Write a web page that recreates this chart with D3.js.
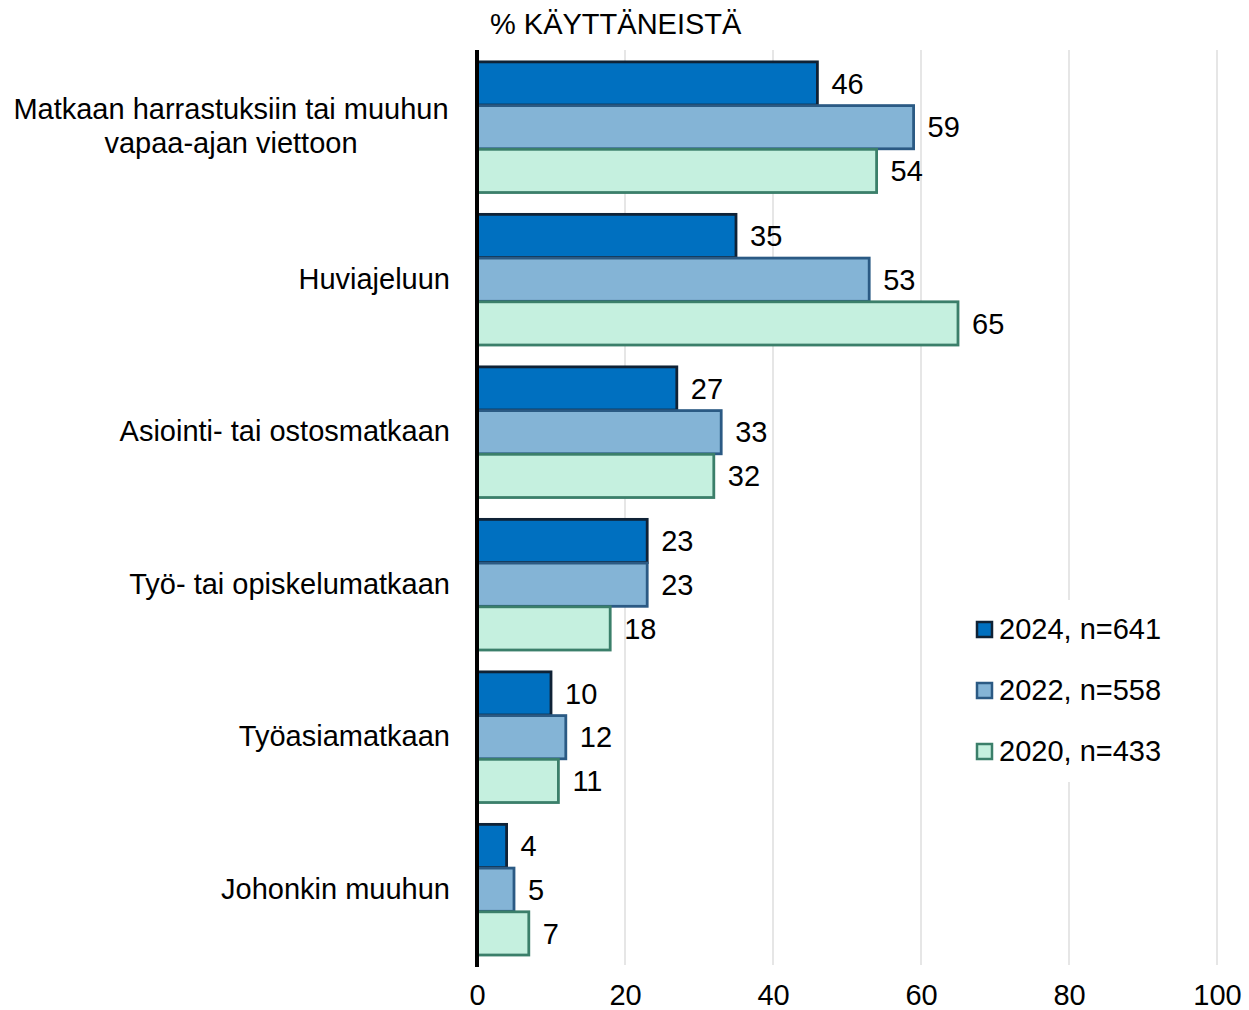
<!DOCTYPE html>
<html>
<head>
<meta charset="utf-8">
<script src="https://cdn.jsdelivr.net/npm/d3@7"></script>
<style>
  body { margin: 0; background: #fff; }
  svg text { font-family: "Liberation Sans", Arial, sans-serif; fill: #000; }
</style>
</head>
<body>
<div id="chart"></div>
<script>
var categories = [
  ["Matkaan harrastuksiin tai muuhun", "vapaa-ajan viettoon"],
  ["Huviajeluun"],
  ["Asiointi- tai ostosmatkaan"],
  ["Työ- tai opiskelumatkaan"],
  ["Työasiamatkaan"],
  ["Johonkin muuhun"]
];
var seriesNames = ["2024, n=641", "2022, n=558", "2020, n=433"];
var values2024 = [46, 35, 27, 23, 10, 4];
var values2022 = [59, 53, 33, 23, 12, 5];
var values2020 = [54, 65, 32, 18, 11, 7];
var xTicks = [0, 20, 40, 60, 80, 100];

var fills = ["#0070c0", "#84b4d6", "#c5f0df"];
var strokes = ["#0f2236", "#2b5a84", "#3b7f6a"];

var W = 1249, H = 1010;
var margin = {top: 50, right: 32, bottom: 45, left: 477};
var width = W - margin.left - margin.right;
var height = H - margin.top - margin.bottom;
var fs = '29px';

var svg = d3.select('#chart').append('svg')
    .attr('width', W)
    .attr('height', H);

var x = d3.scaleLinear().domain([0, 100]).range([0, width]);
var y0 = d3.scaleBand().domain(d3.range(categories.length)).range([0, height]).paddingInner(0.14).paddingOuter(0.07);
var y1 = d3.scaleBand().domain([0, 1, 2]).range([0, y0.bandwidth()]);

var data = categories.map(function(c, i) {
  return {label: c, vals: [values2024[i], values2022[i], values2020[i]]};
});

var g = svg.append('g').attr('transform', 'translate(' + margin.left + ',' + margin.top + ')');

// gridlines
g.append('g').selectAll('line')
  .data(xTicks.slice(1))
  .enter().append('line')
    .attr('x1', function(d) { return x(d); })
    .attr('x2', function(d) { return x(d); })
    .attr('y1', 0)
    .attr('y2', height)
    .attr('stroke', '#d9d9d9')
    .attr('stroke-width', 1.3);

// x axis tick labels
var xAxis = g.append('g')
    .attr('transform', 'translate(0,' + height + ')')
    .call(d3.axisBottom(x).tickValues(xTicks).tickSize(0).tickPadding(19));
xAxis.select('.domain').remove();
xAxis.selectAll('text').style('font-size', fs).attr('fill', '#000');

// bars
var groups = g.selectAll('.grp')
  .data(data)
  .enter().append('g')
    .attr('class', 'grp')
    .attr('transform', function(d, i) { return 'translate(0,' + y0(i) + ')'; });

groups.selectAll('rect')
  .data(function(d) { return d.vals; })
  .enter().append('rect')
    .attr('x', 0)
    .attr('y', function(d, j) { return y1(j) + 1.2; })
    .attr('width', function(d) { return x(d); })
    .attr('height', y1.bandwidth() - 0.5)
    .attr('fill', function(d, j) { return fills[j]; })
    .attr('stroke', function(d, j) { return strokes[j]; })
    .attr('stroke-width', 2.8);

groups.selectAll('.val')
  .data(function(d) { return d.vals; })
  .enter().append('text')
    .attr('class', 'val')
    .attr('x', function(d) { return x(d) + 14; })
    .attr('y', function(d, j) { return y1(j) + y1.bandwidth() / 2 + 1; })
    .attr('dy', '0.35em')
    .style('font-size', fs)
    .text(function(d) { return d; });

// category labels
groups.each(function(d) {
  var t = d3.select(this).append('text')
    .style('font-size', fs);
  var n = d.label.length;
  d.label.forEach(function(line, k) {
    t.append('tspan')
      .attr('x', n > 1 ? -246 : -27)
      .attr('text-anchor', n > 1 ? 'middle' : 'end')
      .attr('y', y0.bandwidth() / 2 + (k - (n - 1) / 2) * 34)
      .attr('dy', '0.35em')
      .text(line);
  });
});

// y axis line
g.append('line')
  .attr('x1', 0).attr('x2', 0)
  .attr('y1', 0).attr('y2', height + 2)
  .attr('stroke', '#000')
  .attr('stroke-width', 4);

// title
svg.append('text')
  .attr('x', 490)
  .attr('y', 34)
  .style('font-size', fs)
  .text('% KÄYTTÄNEISTÄ');

// legend
var legend = svg.append('g').attr('transform', 'translate(968,600)');
legend.append('rect')
  .attr('width', 215).attr('height', 182)
  .attr('fill', '#fff');
var li = legend.selectAll('.li')
  .data(seriesNames)
  .enter().append('g')
    .attr('transform', function(d, i) { return 'translate(0,' + (29 + i * 61) + ')'; });
li.append('rect')
  .attr('x', 9).attr('y', -7)
  .attr('width', 15).attr('height', 15)
  .attr('fill', function(d, i) { return fills[i]; })
  .attr('stroke', function(d, i) { return strokes[i]; })
  .attr('stroke-width', 2.5);
li.append('text')
  .attr('x', 31)
  .attr('dy', '0.35em')
  .style('font-size', fs)
  .text(function(d) { return d; });
</script>
</body>
</html>
